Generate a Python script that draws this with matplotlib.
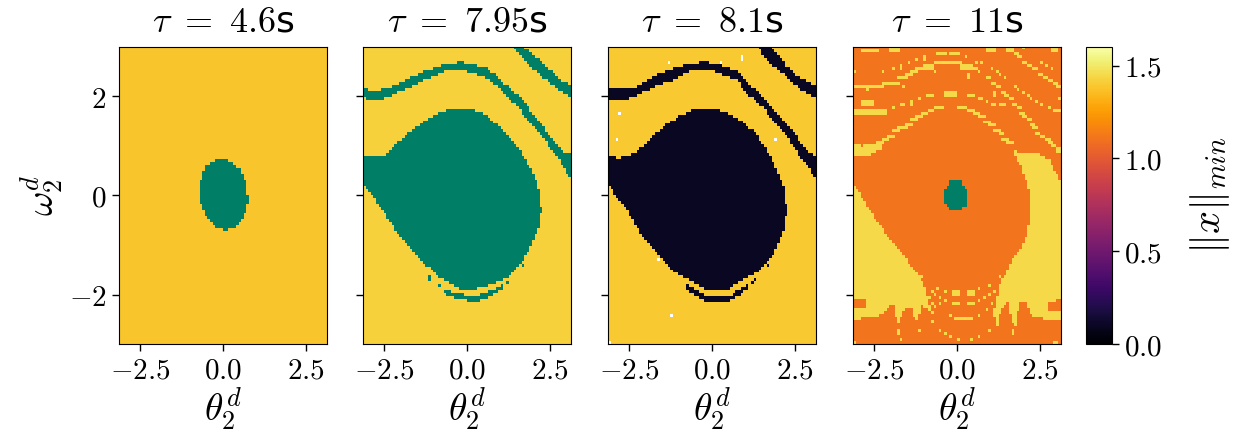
import numpy as np
import matplotlib
matplotlib.use("Agg")
import matplotlib.pyplot as plt
from matplotlib.path import Path

# ---------- data (theta, omega) ----------
taus = ["4.6", "7.95", "8.1", "11"]
xticks = [-2.5, 0.0, 2.5]
yticks = [-2, 0, 2]
cbar_ticks = [0.0, 0.5, 1.0, 1.5]
UNCONV = -1.0                      # drawn in teal (below the colour range)

p1_level = 1.385
p1_blob_t = [-.06,.24,.55,.68,.73,.77,.70,.60,.39,.09,-.21,-.46,-.65,-.72,-.69,-.57,-.33]
p1_blob_w = [.74,.67,.50,.27,0,-.07,-.34,-.47,-.64,-.71,-.64,-.47,-.24,0,.27,.54,.67]

p2_level = 1.42
p2_blob_t = [-3.2,-2.85,-2.49,-2.24,-1.94,-1.43,-1.03,-.68,-.17,.33,.69,1.19,1.60,2.0,2.2,2.25,2.15,2.0,1.70,1.19,.69,.18,-.22,-.73,-1.38,-1.94,-2.55,-2.85,-3.2]
p2_blob_w = [.81,.76,.79,.94,1.15,1.42,1.58,1.70,1.77,1.70,1.55,1.25,.91,.44,.03,-.30,-.71,-.91,-1.31,-1.69,-1.82,-1.92,-1.89,-1.72,-1.31,-.91,-.30,-.03,.24]
p2_a_t = [-3.2,-2.70,-2.34,-2.04,-1.74,-1.38,-1.03,-.68,-.17,.23,.59,.89,1.19,1.49,1.80,2.10,2.40,2.71,2.96,3.2]
p2_a_up = [2.14,2.12,2.16,2.26,2.36,2.48,2.55,2.65,2.68,2.63,2.55,2.41,2.21,2.05,1.82,1.55,1.28,1.01,.84,.80]
p2_a_lo = [1.96,1.91,1.98,2.09,2.16,2.29,2.38,2.49,2.52,2.46,2.36,2.20,1.99,1.82,1.55,1.32,1.05,.78,.51,.25]
p2_b_t = [1.36,1.60,1.65,1.95,2.25,2.51,2.81,3.2]
p2_b_up = [3.1,3.1,3.05,2.84,2.70,2.52,2.32,2.21]
p2_b_lo = [3.0,2.80,2.77,2.57,2.40,2.26,2.09,1.96]
p2_c_t = [-.68,-.53,-.22,.18,.59,.89,1.11]
p2_c_up = [-1.89,-1.94,-1.99,-2.06,-1.97,-1.89,-1.80]
p2_c_lo = [-1.96,-2.06,-2.09,-2.16,-2.09,-1.98,-1.89]
p2_dots = [(-1.12,-1.65),(-1.12,-1.71),(-.81,-1.84),(1.21,-1.77),(1.67,-1.40)]

p3_level = 1.40
p3_low = 0.10
p3_blob_t = [-3.2,-2.79,-2.43,-2.08,-1.47,-1.02,-.67,-.16,.34,.85,1.35,1.86,2.16,2.26,2.16,1.86,1.35,.85,.44,-.16,-.67,-1.17,-1.62,-2.08,-2.63,-3.2]
p3_blob_w = [.78,.74,.81,.98,1.38,1.58,1.70,1.77,1.70,1.52,1.21,.67,.17,-.30,-.74,-1.18,-1.55,-1.75,-1.92,-1.92,-1.72,-1.55,-1.18,-.84,-.24,.24]
p3_a_t = [-3.2,-2.79,-2.33,-2.03,-1.57,-1.12,-.67,-.16,.24,.75,1.15,1.55,1.96,2.36,2.66,2.97,3.2]
p3_a_up = [2.17,2.14,2.18,2.29,2.45,2.56,2.66,2.68,2.63,2.51,2.22,1.98,1.68,1.35,1.08,.84,.76]
p3_a_lo = [1.96,1.90,1.98,2.09,2.24,2.32,2.49,2.52,2.46,2.31,1.99,1.76,1.42,1.08,.78,.51,.25]
p3_b_t = [1.38,1.70,1.96,2.26,2.56,2.86,3.2]
p3_b_up = [3.1,3.1,2.86,2.59,2.42,2.29,2.18]
p3_b_lo = [3.0,2.67,2.55,2.37,2.20,2.05,1.96]
p3_c_t = [-.82,-.51,-.16,.49,.85,1.10]
p3_c_up = [-1.79,-1.92,-2.04,-2.06,-1.89,-1.79]
p3_c_lo = [-1.89,-2.04,-2.16,-2.16,-2.02,-1.87]
p3_dots = [(1.22,-1.77),(1.30,-1.71),(1.69,-1.40)]
p3_nan = [(-1.29,2.65),(.29,2.65),(.91,2.76),(.91,2.70),(-2.81,1.62),(-2.87,1.08),(1.92,1.08),(-1.60,-1.28),(-1.22,-2.44),(-3.12,-2.98)]

p4_low = 1.11
p4_high = 1.45
p4_blob_t = [-.2,.1,.2,.29,.29,.15,-.15,-.36,-.36,-.28]
p4_blob_w = [.32,.32,.2,.1,-.2,-.3,-.3,-.2,.1,.2]
p4_left_t = [-3.2,-2.69,-2.39,-1.99,-1.58,-1.18,-1.0,-.9,-.72,-.71,-1.06,-1.24,-1.36,-1.57,-1.82,-1.89,-2.04,-2.22,-3.2,-3.2,-2.78,-2.78,-3.2]
p4_left_w = [.30,-.24,-.54,-.91,-1.25,-1.58,-1.85,-2.05,-2.39,-2.42,-2.22,-2.59,-2.29,-2.31,-2.63,-2.23,-2.23,-2.42,-2.52,-2.32,-2.26,-2.12,-2.10]
p4_right_t = [1.71,2.07,2.52,2.78,2.98,3.2,3.2,2.78,2.73,3.2,3.2,2.57,2.27,2.07,1.91,1.76,1.66,1.56,1.36,1.21,1.10,1.36,1.66,2.07,2.22,2.17,1.97]
p4_right_w = [.88,.84,.81,.71,.44,.24,-2.12,-2.14,-2.31,-2.34,-2.52,-2.49,-2.46,-2.16,-2.19,-2.60,-2.60,-2.16,-2.26,-2.63,-2.39,-1.72,-1.31,-.91,-.37,.10,.51]
p4_patch_t = [-3.2,-2.85,-2.25,-2.0,-2.35,-2.63,-3.03,-3.2]
p4_patch_w = [1.04,.98,1.08,1.2,.9,.79,.79,.81]
# one-row dashes: theta from, theta to, omega
p4_dash = [(-2.85,-2.40,2.88),(-.59,-.45,2.83),(-.2,.05,2.83),(-.66,.10,2.65),(.45,.6,2.53),
 (-3.13,-2.27,2.16),(-2.27,-2.02,2.23),(-2.02,-1.77,2.28),(-1.77,-1.57,2.34),(-1.57,-1.41,2.40),
 (-1.38,-1.21,2.47),(-1.21,-1.06,2.53),(-.89,-.71,1.99),(.32,.48,1.99),(.64,.73,1.93),(-1.72,-1.6,1.80),
 (-.66,-.4,1.74),(.05,.30,1.74),(.35,.5,1.68),(1.06,1.16,1.80),(2.98,3.1,1.68),(.88,1.01,2.34),
 (-.86,-.71,1.68),(-1.06,-.89,1.62),(-1.21,-1.06,1.56),(-1.36,-1.21,1.50),(-1.57,-1.36,1.43),
 (-1.77,-1.57,1.33),(-1.92,-1.77,1.27),(-2.07,-1.92,1.18),(-2.22,-2.07,1.10),
 (.5,.66,1.62),(.66,.81,1.56),(.81,.96,1.49),(.96,1.11,1.40),(1.11,1.26,1.31),(1.26,1.41,1.22),(1.41,1.57,1.13),(1.57,1.7,1.06),
 (-.05,.40,-2.49)]
# two-row dashes: theta from, theta to, omega at their middle
p4_thick = [(-1.97,-1.79,2.94),(.93,1.11,2.94),(1.57,1.70,2.94),(2.88,3.03,2.94),(-.96,-.71,2.58),(.15,.40,2.58),
 (-.37,-.05,2.04),(-2.78,-2.56,1.86),(-3.13,-2.17,1.67),(-.10,0.0,-2.01),(.37,.50,-2.01),(-.10,0.0,-2.19),(.37,.50,-2.19)]
# two-cell-wide steps of the falling bands
p4_wide = [(1.82,2.85),(1.92,2.76),(2.07,2.69),(2.22,2.59),(2.37,2.53),(2.53,2.42),(2.68,2.38),(2.83,2.30),(2.98,2.23),(3.08,2.18),
 (1.13,2.26),(1.26,2.18),(1.39,2.07),(1.46,2.0),(1.62,1.94),(1.74,1.85),(1.87,1.77),(1.97,1.67),(2.07,1.58),(2.17,1.50),
 (2.27,1.41),(2.37,1.33),(2.47,1.25),(2.58,1.16),(2.73,1.10),(2.83,1.06),(2.93,1.0),(3.03,.93),(3.10,.88)]
# single cells
p4_dots = [(-.38,2.83),(-.96,2.79),(-.96,2.73),(.30,2.76),(1.97,2.94),(-1.24,2.70),(-1.44,2.65),(-1.70,2.61),(-1.70,2.55),
 (-1.94,2.53),(-2.22,2.47),(-3.08,2.47),(.58,2.67),(.78,2.65),(-.63,2.47),(.38,2.43),(.38,2.37),(.69,2.47),(1.06,2.53),
 (1.19,2.47),(1.33,2.41),(1.46,2.34),(2.58,2.65),(2.73,2.58),(2.88,2.53),(-2.73,2.11),(-1.64,2.16),(1.77,2.16),(1.87,2.11),
 (2.02,2.05),(2.15,1.99),(2.27,1.94),(2.39,1.87),(2.58,1.80),(2.76,1.75),(3.08,1.94),(1.13,2.07),(1.13,2.01),(.89,1.86),
 (-1.13,1.93),(-1.41,1.89),(-1.41,1.83),(-1.94,1.74),(-2.88,1.90),(-2.88,1.84),(1.36,1.85),(1.46,1.85),(1.31,1.80),
 (-.63,-2.01),(-.73,-1.95),(-.56,-1.90),(-.37,-1.95),(-.50,-2.07),(-.37,-2.12),(-.52,-2.19),(-.63,-2.26),(-.86,-2.09),(-.76,-2.17),
 (.69,-1.90),(.96,-2.01),(.69,-2.12),(.84,-2.07),(1.11,-1.95),(1.01,-1.82),(1.26,-1.82),(1.21,-2.09),(1.09,-2.19),(.89,-2.31),
 (-.23,-2.44),(.63,-2.44),(1.19,-2.56),(1.77,-2.54),(1.77,-2.60),(-1.77,-2.75),(-1.77,-2.81),(-1.13,-2.72),(-.50,-2.72),(-.37,-2.79),
 (-.23,-2.85),(0,-2.92),(.45,-2.92),(.69,-2.85),(.96,-2.72),(1.72,-2.72),(1.67,-2.79),(-1.72,-2.92),(-.76,-2.56),(-3.08,-2.96),
 (2.93,-2.96),(3.03,-2.96),(-1.09,-1.65),(1.31,-1.64)]

# ---------- grid ----------
NX, NY = 80, 100
XMIN, XMAX, YMIN, YMAX = -np.pi, np.pi, -3.0, 3.0
dx, dy = (XMAX - XMIN) / NX, (YMAX - YMIN) / NY
xc = XMIN + dx * (np.arange(NX) + .5)
yc = YMIN + dy * (np.arange(NY) + .5)
XX, YY = np.meshgrid(xc, yc)
PTS = np.column_stack([XX.ravel(), YY.ravel()])


def fill_poly(z, t, w, val):
    mask = Path(np.column_stack([t, w])).contains_points(PTS).reshape(z.shape)
    z[mask] = val


def fill_band(z, t, up, lo, val):
    fill_poly(z, list(t) + list(t)[::-1], list(up) + list(lo)[::-1], val)


def cell(th, om):
    return (int(np.clip(np.floor((om - YMIN) / dy), 0, NY - 1)),
            int(np.clip(np.floor((th - XMIN) / dx), 0, NX - 1)))


def fill_dash(z, a, b, om, val):
    r, c0 = cell(a, om)
    _, c1 = cell(b, om)
    z[r, c0:c1 + 1] = val


Z1 = np.full((NY, NX), p1_level)
fill_poly(Z1, p1_blob_t, p1_blob_w, UNCONV)

Z2 = np.full((NY, NX), p2_level)
fill_poly(Z2, p2_blob_t, p2_blob_w, UNCONV)
fill_band(Z2, p2_a_t, p2_a_up, p2_a_lo, UNCONV)
fill_band(Z2, p2_b_t, p2_b_up, p2_b_lo, UNCONV)
fill_band(Z2, p2_c_t, p2_c_up, p2_c_lo, UNCONV)
for th, om in p2_dots:
    Z2[cell(th, om)] = UNCONV

Z3 = np.full((NY, NX), p3_level)
fill_poly(Z3, p3_blob_t, p3_blob_w, p3_low)
fill_band(Z3, p3_a_t, p3_a_up, p3_a_lo, p3_low)
fill_band(Z3, p3_b_t, p3_b_up, p3_b_lo, p3_low)
fill_band(Z3, p3_c_t, p3_c_up, p3_c_lo, p3_low)
for th, om in p3_dots:
    Z3[cell(th, om)] = p3_low
for th, om in p3_nan:
    Z3[cell(th, om)] = np.nan

Z4 = np.full((NY, NX), p4_low)
fill_poly(Z4, p4_left_t, p4_left_w, p4_high)
fill_poly(Z4, p4_right_t, p4_right_w, p4_high)
fill_poly(Z4, p4_patch_t, p4_patch_w, p4_high)
for a, b, om in p4_dash:
    fill_dash(Z4, a, b, om, p4_high)
for a, b, om in p4_thick:
    fill_dash(Z4, a, b, om - dy / 2, p4_high)
    fill_dash(Z4, a, b, om + dy / 2, p4_high)
for th, om in p4_wide:
    fill_dash(Z4, th - dx / 2, th + dx / 2, om, p4_high)
for th, om in p4_dots:
    Z4[cell(th, om)] = p4_high
fill_poly(Z4, p4_blob_t, p4_blob_w, UNCONV)

# ---------- drawing ----------
plt.rcParams["mathtext.fontset"] = "cm"
W, H = 1246, 440
fig = plt.figure(figsize=(W / 100, H / 100), dpi=100)
cmap = plt.get_cmap("inferno").copy()
cmap.set_under("#007f66")
cmap.set_bad("white")

lefts = [119, 363, 608, 853]
width, top, bottom = 208, 47, 344
TICK, LAB, TIT = 21, 27, 26
im = None
for i, (Z, tau, l) in enumerate(zip([Z1, Z2, Z3, Z4], taus, lefts)):
    ax = fig.add_axes([l / W, 1 - bottom / H, width / W, (bottom - top) / H])
    im = ax.imshow(Z, origin="lower", extent=[XMIN, XMAX, YMIN, YMAX], aspect="auto",
                   cmap=cmap, vmin=0, vmax=1.6, interpolation="nearest")
    ax.set_xticks(xticks)
    ax.set_xticklabels([rf"${v:.1f}$" for v in xticks], fontsize=TICK)
    ax.set_yticks(yticks)
    ax.set_yticklabels([rf"${v}$" for v in yticks] if i == 0 else [], fontsize=TICK)
    ax.tick_params(length=5, width=1, pad=4)
    ax.set_title(rf"$\tau\ =\ {tau}$s", fontsize=TIT, pad=11)
    ax.set_xlabel(r"$\theta_2^d$", fontsize=LAB, labelpad=1)
    if i == 0:
        ax.set_ylabel(r"$\omega_2^d$", fontsize=LAB, labelpad=2)

cax = fig.add_axes([1086 / W, 1 - bottom / H, 26 / W, (bottom - top) / H])
cb = fig.colorbar(im, cax=cax)
cb.set_ticks(cbar_ticks)
cb.set_ticklabels([rf"${v:.1f}$" for v in cbar_ticks], fontsize=TICK)
cb.ax.tick_params(length=5, width=1, pad=4)
cb.set_label(r"$\Vert x\Vert_{min}$", fontsize=29, labelpad=18)

fig.savefig("out.png", dpi=100)
